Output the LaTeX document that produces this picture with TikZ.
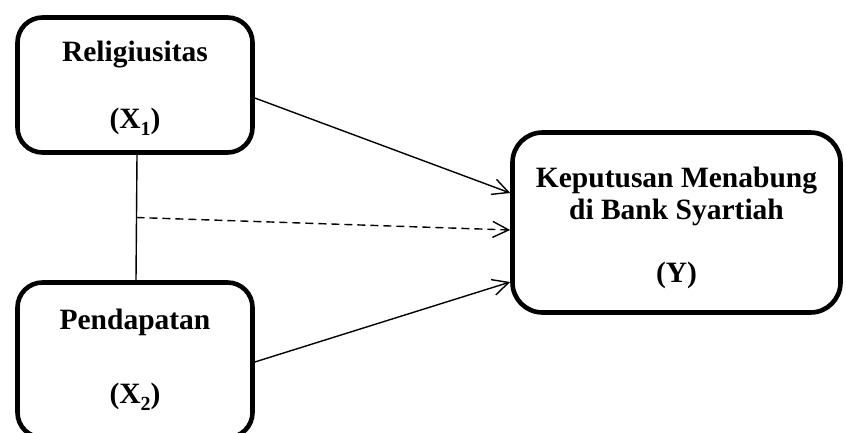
\documentclass[tikz,border=0pt]{standalone}
\usepackage{fontspec}
\setmainfont{Liberation Serif}
\usetikzlibrary{arrows.meta}
\newcommand{\lowidx}[1]{\raisebox{-0.25em}{\fontsize{20}{20}\selectfont #1}}
\begin{document}
\begin{tikzpicture}[x=1pt,y=-1pt,
  varbox/.style={draw, line width=4.6pt, rounded corners=25pt, align=center,
    font=\bfseries\fontsize{29.5}{32}\selectfont, inner sep=0pt},
  link/.style={line width=1.4pt},
  arr/.style={link, -{Straight Barb[length=16pt,width=16pt]}}]
\useasboundingbox (0,0) rectangle (846,432);
\clip (0,0) rectangle (846,432);
\node[varbox, minimum width=235pt, minimum height=135pt] (b1) at (135,85)
  {\rule{0pt}{27.5pt}Religiusitas\\[35pt](X\lowidx{1})};
\node[varbox, minimum width=235pt, minimum height=155pt] (b2) at (135,360)
  {Pendapatan\\[42pt](X\lowidx{2})};
\node[varbox, rounded corners=30pt, minimum width=328pt, minimum height=180pt] (b3) at (676.5,222.5)
  {\rule{0pt}{31pt}Keputusan Menabung\\di Bank Syartiah\\[31pt](Y)};
\draw[link] ([xshift=2pt]b1.south) -- coordinate[pos=0.5] (m) ([xshift=1pt]b2.north);
\draw[arr] ([yshift=-13pt]b1.east) -- ([yshift=29.5pt]b3.west);
\draw[arr, dash pattern=on 8pt off 5pt] (m) -- ([yshift=-7.5pt]b3.west);
\draw[arr] ([yshift=-2pt]b2.east) -- ([yshift=-59.5pt]b3.west);
\end{tikzpicture}
\end{document}
